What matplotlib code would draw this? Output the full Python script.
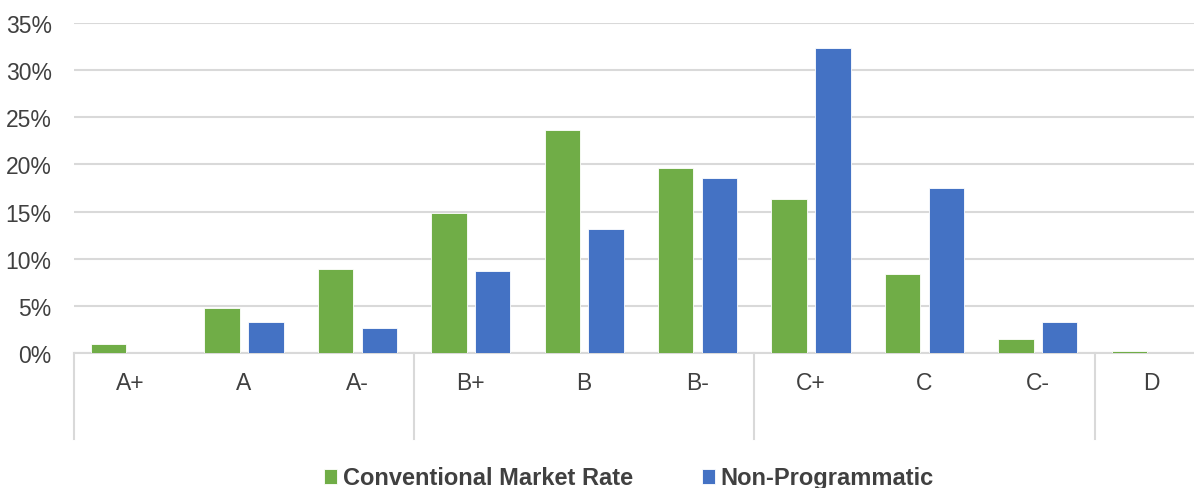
import matplotlib
matplotlib.use('Agg')
import numpy as np
import matplotlib.pyplot as plt
import matplotlib.transforms as mtransforms

plt.rcParams['font.family'] = ['Liberation Sans', 'DejaVu Sans']

# data
grades = ['A+', 'A', 'A-', 'B+', 'B', 'B-', 'C+', 'C', 'C-', 'D']
conventional = [1.0, 4.8, 8.9, 14.9, 23.7, 19.6, 16.3, 8.4, 1.5, 0.2]
non_programmatic = [0.0, 3.25, 2.7, 8.7, 13.1, 18.6, 32.4, 17.5, 3.25, 0.0]
yticks = [0, 5, 10, 15, 20, 25, 30, 35]

green = '#70AD47'
blue = '#4472C4'
grid_col = '#D9D9D9'
txt_col = '#404040'

fig = plt.figure(figsize=(11.94, 4.89), dpi=100)
# plot area runs past the right edge, as in the original (cropped)
ax = fig.add_axes([73.9/1194, 1 - 354/489, (1208 - 73.9)/1194, 330/489])

ind = np.arange(len(grades))
w = 0.312
off = 0.193
ax.bar(ind - off, conventional, w, color=green, edgecolor='white', linewidth=0.6,
       label='Conventional Market Rate', zorder=3)
ax.bar(ind + off, non_programmatic, w, color=blue, edgecolor='white', linewidth=0.6,
       label='Non-Programmatic', zorder=3)

ax.set_xlim(-0.5, 9.5)
ax.set_ylim(0, 35)
ax.set_yticks(yticks)
ax.set_yticklabels(['%d%%' % v for v in yticks])
ax.yaxis.grid(True, color=grid_col, linewidth=1.5)
ax.set_axisbelow(True)

for s in ['top', 'right', 'left']:
    ax.spines[s].set_visible(False)
ax.spines['bottom'].set_color(grid_col)
ax.spines['bottom'].set_linewidth(1.5)

ax.set_xticks(ind)
ax.set_xticklabels(grades)
ax.tick_params(axis='x', length=0, pad=13, labelsize=16.5, labelcolor=txt_col)
ax.tick_params(axis='y', length=0, pad=16, labelsize=16.5, labelcolor=txt_col)

# group separators below the axis
trans = mtransforms.blended_transform_factory(ax.transData, ax.transAxes)
for xs in [-0.5, 2.5, 5.5, 8.5]:
    ax.plot([xs, xs], [0, -86/330], transform=trans, color=grid_col,
            linewidth=1.5, clip_on=False)

leg = fig.legend(loc='center', bbox_to_anchor=(0.527, 1 - 479/489), ncol=2,
                 frameon=False, handlelength=0.55, handleheight=0.6,
                 handletextpad=0.25, columnspacing=2.9,
                 prop={'weight': 'bold', 'size': 17})
for t in leg.get_texts():
    t.set_color(txt_col)

fig.savefig('out.png', dpi=100)
